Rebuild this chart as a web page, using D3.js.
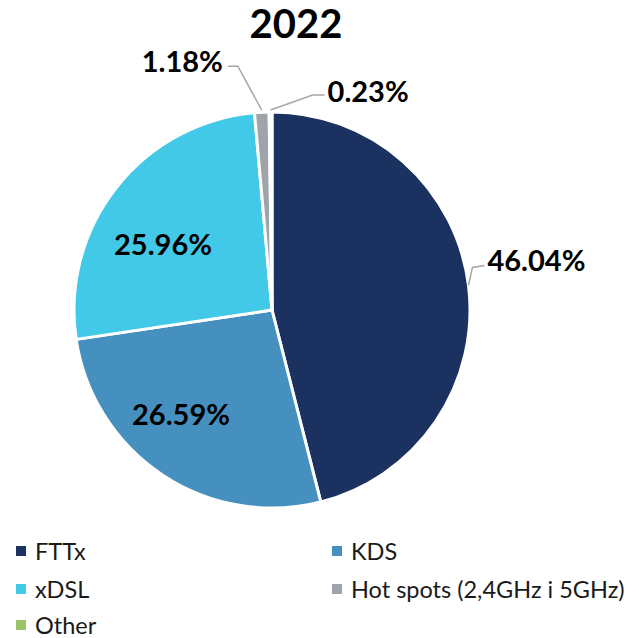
<!DOCTYPE html>
<html><head><meta charset="utf-8">
<script src="https://cdn.jsdelivr.net/npm/d3@7"></script>
<style>body{margin:0;background:#fff}svg{display:block}text{font-family:Lato,"Open Sans",sans-serif}</style>
</head><body>
<script>
const title = "2022";
const categories = ["FTTx","KDS","xDSL","Hot spots (2,4GHz i 5GHz)","Other"];
const values = [46.04, 26.59, 25.96, 1.18, 0.23];
const colors = ["#1b3160","#4690bf","#43c9e8","#9fa4aa","#9bc46a"];

const W=639,H=638, cx=272, cy=310, R=198;
const svg=d3.select("body").append("svg").attr("width",W).attr("height",H);
svg.append("text").attr("x",296).attr("y",38).attr("text-anchor","middle")
  .attr("font-weight","bold").attr("font-size",40).text(title);

const data=categories.map((c,i)=>({c,v:values[i],col:colors[i]}));
const pie=d3.pie().value(d=>d.v).sort(null);
const arcs=pie(data);
const arc=d3.arc().innerRadius(0).outerRadius(R);
const g=svg.append("g").attr("transform",`translate(${cx},${cy})`);
g.selectAll("path").data(arcs).join("path").attr("d",arc).attr("fill",d=>d.data.col)
  .attr("stroke","#fff").attr("stroke-width",3).attr("stroke-linejoin","round");

const fmt=v=>v.toFixed(2)+"%";
const inner={1:[-91,103],2:[-109,-67]};
const lab=g.append("g").attr("font-weight","bold").attr("font-size",29);
arcs.forEach((a,i)=>{
  const mid=(a.startAngle+a.endAngle)/2;
  const ex=Math.sin(mid)*R, ey=-Math.cos(mid)*R;
  if(i===1||i===2){
    lab.append("text").attr("x",inner[i][0]).attr("y",inner[i][1]).attr("text-anchor","middle")
      .attr("dominant-baseline","central").text(fmt(a.data.v));
  } else {
    let pts, tx, ty, anchor;
    if(i===0){ pts=[[ex,ey],[ex+4,ey-18],[ex+16,ey-20]]; tx=ex+19; ty=ey-26; anchor="start"; }
    if(i===3){ pts=[[ex,ey-2],[ex-24,ey-46],[ex-34,ey-46]]; tx=ex-39; ty=ey-52; anchor="end"; }
    if(i===4){ pts=[[ex,ey-2],[ex+42,ey-17],[ex+54,ey-17]]; tx=ex+57; ty=ey-22; anchor="start"; }
    g.append("path").attr("d",d3.line()(pts)).attr("fill","none").attr("stroke","#a6a6a6").attr("stroke-width",1.5);
    lab.append("text").attr("x",tx).attr("y",ty).attr("text-anchor",anchor)
      .attr("dominant-baseline","central").text(fmt(a.data.v));
  }
});

// legend
const lx=[16,332], ly=[551,589,625];
const leg=svg.append("g").attr("font-size",23.5);
data.forEach((d,i)=>{
  const x=lx[i%2], y=ly[Math.floor(i/2)];
  leg.append("rect").attr("x",x).attr("y",y-5).attr("width",10).attr("height",10).attr("fill",d.col);
  leg.append("text").attr("x",x+19).attr("y",y).attr("dominant-baseline","central").attr("fill","#1a1a1a").text(d.c);
});
</script>
</body></html>
